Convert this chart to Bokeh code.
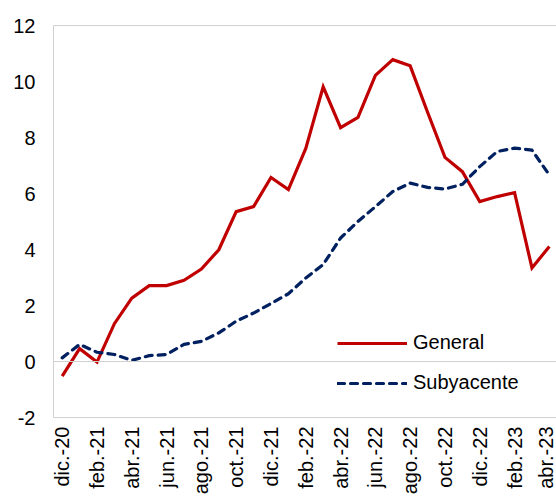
import math
from bokeh.plotting import figure
from bokeh.models import (Range1d, FixedTicker, Span, Legend, LegendItem,
                          ColumnDataSource, LinearAxis)
from bokeh.embed import file_html
from bokeh.resources import INLINE

months = ["dic.-20", "ene.-21", "feb.-21", "mar.-21", "abr.-21", "may.-21", "jun.-21",
          "jul.-21", "ago.-21", "sep.-21", "oct.-21", "nov.-21", "dic.-21", "ene.-22",
          "feb.-22", "mar.-22", "abr.-22", "may.-22", "jun.-22", "jul.-22", "ago.-22",
          "sep.-22", "oct.-22", "nov.-22", "dic.-22", "ene.-23", "feb.-23", "mar.-23",
          "abr.-23"]
general = [-0.52, 0.46, -0.02, 1.35, 2.26, 2.71, 2.71, 2.90, 3.30, 3.99, 5.35, 5.53,
           6.57, 6.14, 7.61, 9.81, 8.35, 8.72, 10.22, 10.78, 10.56, 8.90, 7.29, 6.78,
           5.71, 5.89, 6.03, 3.34, 4.11]
subyacente = [0.13, 0.61, 0.33, 0.25, 0.04, 0.21, 0.25, 0.61, 0.72, 1.02, 1.44, 1.73,
              2.07, 2.42, 2.98, 3.46, 4.41, 5.00, 5.53, 6.07, 6.37, 6.22, 6.16, 6.33,
              6.96, 7.50, 7.62, 7.55, 6.66]
y_ticks = [-2, 0, 2, 4, 6, 8, 10, 12]
y_tick_labels = ["-2", "0", "2", "4", "6", "8", "10", "12"]

x = list(range(len(months)))
src = ColumnDataSource(dict(x=x, general=general, subyacente=subyacente))

FONT = "Liberation Sans"
GRAY = "#d0d0d0"
FS = "20px"

p = figure(width=556, height=497, output_backend="svg", toolbar_location=None,
           x_range=Range1d(-0.5, 28.41), y_range=Range1d(-2, 12),
           min_border_left=53, min_border_top=25, min_border_right=0, min_border_bottom=79)
p.outline_line_color = None
p.grid.visible = False
p.background_fill_color = "white"
p.border_fill_color = "white"

# axes
p.yaxis.ticker = FixedTicker(ticks=y_ticks)
p.yaxis.major_label_overrides = dict(zip(y_ticks, y_tick_labels))
p.yaxis.axis_line_color = GRAY
p.yaxis.major_tick_line_color = None
p.yaxis.minor_tick_line_color = None
p.yaxis.major_tick_out = 0
p.yaxis.major_label_standoff = 18
p.yaxis.major_label_text_font = FONT
p.yaxis.major_label_text_font_size = FS
p.yaxis.major_label_text_color = "#000000"

p.xaxis.ticker = FixedTicker(ticks=x[::2])
p.xaxis.major_label_overrides = {i: months[i] for i in x}
p.xaxis.major_label_orientation = math.pi / 2
p.xaxis.axis_line_color = GRAY
p.xaxis.major_tick_line_color = None
p.xaxis.minor_tick_line_color = None
p.xaxis.major_tick_out = 0
p.xaxis.axis_label_standoff = 0
p.xaxis.major_label_standoff = 9
p.xaxis.major_label_text_font = FONT
p.xaxis.major_label_text_font_size = FS
p.xaxis.major_label_text_color = "#000000"

top_axis = LinearAxis(ticker=FixedTicker(ticks=[]), major_label_text_font_size="0px",
                      axis_line_color=GRAY, major_tick_line_color=None,
                      minor_tick_line_color=None, major_label_standoff=0,
                      major_tick_out=0)
p.add_layout(top_axis, "above")

p.add_layout(Span(location=0, dimension="width", line_color=GRAY, line_width=1))

r1 = p.line("x", "general", source=src, line_color="#C00000", line_width=3.2,
            line_join="miter")
r2 = p.line("x", "subyacente", source=src, line_color="#002060", line_width=3.2,
            line_dash="7 6", line_cap="round", line_join="round")

legend = Legend(items=[LegendItem(label="General", renderers=[r1]),
                       LegendItem(label="Subyacente", renderers=[r2])],
                location=(284, 23))
legend.border_line_color = None
legend.background_fill_alpha = 0
legend.padding = 0
legend.margin = 0
legend.spacing = 17
legend.glyph_width = 70
legend.glyph_height = 20
legend.label_height = 20
legend.label_standoff = 6
legend.label_text_font = FONT
legend.label_text_font_size = FS
legend.label_text_color = "#000000"
p.add_layout(legend)

open("out.html", "w").write(file_html(p, INLINE))
